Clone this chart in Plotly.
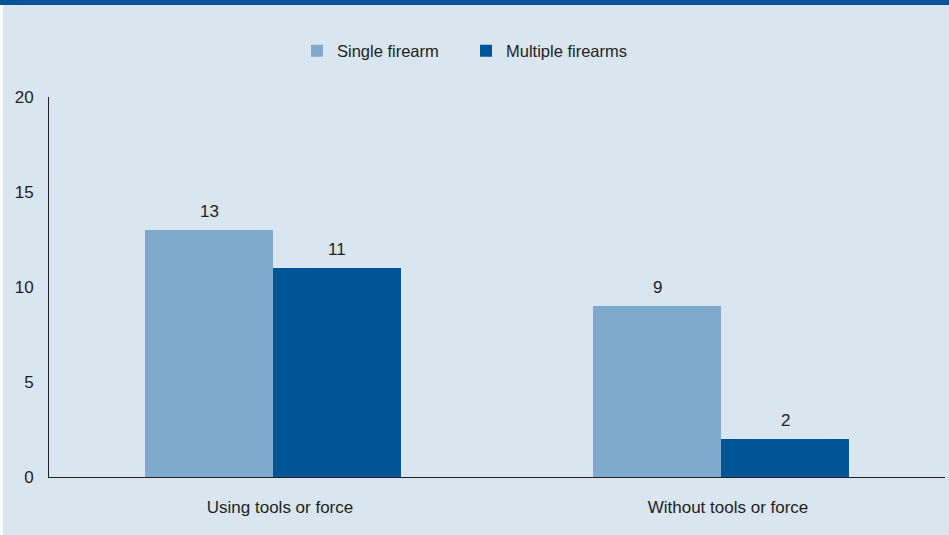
import plotly.graph_objects as go

categories = ["Using tools or force", "Without tools or force"]
series_names = ["Single firearm", "Multiple firearms"]
single_values = [13, 9]
multiple_values = [11, 2]
y_ticks = [0, 5, 10, 15, 20]

BG = "#d9e5ef"
LIGHT = "#80aacb"
DARK = "#005596"
TXT = "#231f20"

fig = go.Figure()
fig.add_trace(go.Bar(x=categories, y=single_values, name=series_names[0],
                     marker=dict(color=LIGHT, line=dict(width=0))))
fig.add_trace(go.Bar(x=categories, y=multiple_values, name=series_names[1],
                     marker=dict(color=DARK, line=dict(width=0))))

W, H = 949, 535
L, R, T, B = 49, 4, 97, 58
pw, ph = W - L - R, H - T - B

def px_x(p):
    return (p - L) / pw

def px_y(p):
    return (H - B - p) / ph

bar_w = 128
annotations = []
for vals, shift in ((single_values, -bar_w / 2), (multiple_values, bar_w / 2)):
    for c, v in zip(categories, vals):
        annotations.append(dict(x=c, y=v, xref="x", yref="y", text=str(v), showarrow=False,
                                xshift=shift, yshift=7, yanchor="bottom",
                                font=dict(size=17, color=TXT)))

fig.update_layout(
    width=W, height=H,
    margin=dict(l=L, r=R, t=T, b=B, pad=0),
    paper_bgcolor=BG, plot_bgcolor=BG,
    font=dict(family="Liberation Sans, Arial, sans-serif", size=17, color=TXT),
    barmode="group", bargap=0.4286, bargroupgap=0,
    legend=dict(orientation="h", x=px_x(466), xanchor="center", y=px_y(51), yanchor="middle",
                font=dict(size=16.5, color=TXT), bgcolor="rgba(0,0,0,0)",
                traceorder="normal", entrywidth=124),
    xaxis=dict(showline=True, linecolor=TXT, linewidth=1, ticks="", showgrid=False,
               zeroline=False, ticklabelstandoff=15, ticklabelshift=7,
               tickfont=dict(size=17, color=TXT)),
    yaxis=dict(range=[0, 20], tickvals=y_ticks, showline=True, linecolor=TXT, linewidth=1,
               ticks="", showgrid=False, zeroline=False, ticklabelstandoff=11,
               tickfont=dict(size=17, color=TXT)),
    annotations=annotations,
    shapes=[
        dict(type="rect", xref="paper", yref="paper", x0=px_x(0), x1=px_x(W), y0=px_y(5), y1=px_y(0),
             fillcolor=DARK, line=dict(width=0), layer="above"),
        dict(type="rect", xref="paper", yref="paper", x0=px_x(0), x1=px_x(3), y0=px_y(H), y1=px_y(5),
             fillcolor="white", line=dict(width=0), layer="above"),
    ],
)

fig.write_html("out.html")
